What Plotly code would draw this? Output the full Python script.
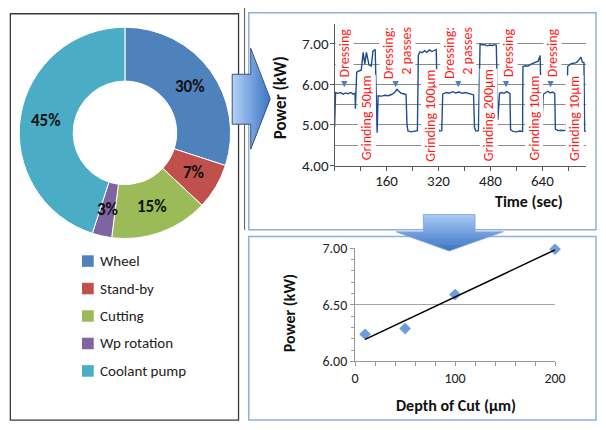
import math
import numpy as np
import plotly.graph_objects as go

W, H = 606, 430
FONT = "Carlito, Lato, sans-serif"

# ---------------- data ----------------
SEGMENTS = ["Wheel", "Stand-by", "Cutting", "Wp rotation", "Coolant pump"]
SHARE_PCT = [30, 7, 15, 3, 45]
SEG_COLORS = ["#4F81BD", "#C0504D", "#9BBB59", "#8064A2", "#4BACC6"]

TIME_S = [0, 3, 10, 18, 26, 34, 42, 50, 57, 63, 64, 68, 75, 82, 84, 88, 93, 98, 106, 113,
          118, 125, 131, 134, 145, 155, 165, 175, 185, 192, 198, 205, 212, 220, 223, 226,
          235, 245, 255, 258, 263, 270, 277, 284, 292, 300, 307, 313, 318, 323, 330, 333,
          343, 353, 363, 373, 383, 393, 403, 413, 421, 428, 431, 435, 443, 448, 455, 463,
          470, 478, 486, 493, 498, 503, 508, 515, 522, 530, 537, 540, 542, 550, 560, 570,
          579, 580, 588, 596, 605, 613, 620, 627, 633, 638, 643, 650, 657, 664, 671, 678,
          680, 688, 698, 708, 714, 718, 726, 734, 742, 748, 753, 759, 763, 768, 770, 774]
POWER_KW = [4.95, 5.80, 5.78, 5.80, 5.76, 5.79, 5.77, 5.80, 5.76, 5.78, 5.40, 6.30, 6.33, 6.35,
            6.50, 6.79, 6.50, 6.79, 6.48, 6.45, 6.82, 6.86, 4.81, 5.72, 5.71, 5.73, 5.72, 5.75,
            5.80, 5.88, 5.83, 5.78, 5.77, 5.75, 5.00, 4.85, 4.83, 4.84, 4.86, 6.72, 6.80, 6.78,
            6.83, 6.79, 6.85, 6.81, 6.84, 6.86, 4.93, 4.85, 4.86, 5.76, 5.80, 5.78, 5.82, 5.79,
            5.81, 5.78, 5.80, 5.77, 5.76, 5.74, 4.93, 4.85, 4.86, 7.00, 6.97, 6.98, 6.95, 6.97,
            6.96, 6.98, 6.97, 5.13, 5.78, 5.80, 5.78, 5.82, 5.79, 5.77, 4.88, 4.84, 4.83, 4.85,
            4.84, 6.44, 6.46, 6.45, 6.50, 6.52, 6.55, 6.57, 6.71, 4.93, 5.76, 5.80, 5.83, 5.79,
            5.81, 5.78, 4.90, 4.86, 4.87, 4.86, 4.88, 6.44, 6.50, 6.52, 6.53, 6.56, 6.60, 6.67,
            6.55, 6.54, 4.85, 4.84]

PHASE_TEXT = ["Dressing", "Grinding 50µm", "Dressing:<br>2 passes", "Grinding 100µm",
              "Dressing:<br>2 passes", "Grinding 200µm", "Dressing", "Grinding 10µm",
              "Dressing", "Grinding 10µm"]
DRESS_T = [30, 188, 381, 528, 665]

DEPTH_UM = [10, 50, 100, 200]
MEAN_POWER_KW = [6.24, 6.29, 6.59, 6.99]

TOP_XTICKS = [160, 320, 480, 640]
TOP_YTICKS = [4, 5, 6, 7]
BOT_XTICKS = [0, 100, 200]
BOT_YTICKS = [6.0, 6.5, 7.0]


def px(x):
    return x / W


def py(y):
    return 1 - y / H


fig = go.Figure()

# ---------------- donut ----------------
PIE_CX, PIE_CY, PIE_R, PIE_HOLE = 124, 130, 110, 0.49
fig.add_trace(go.Pie(
    values=SHARE_PCT, labels=SEGMENTS, sort=False, direction="clockwise",
    hole=PIE_HOLE, textinfo="none", showlegend=False, hoverinfo="label+percent",
    marker=dict(colors=SEG_COLORS, line=dict(color="white", width=1)),
    domain=dict(x=[px(PIE_CX - PIE_R), px(PIE_CX + PIE_R)],
                y=[py(PIE_CY + PIE_R), py(PIE_CY - PIE_R)]),
))

annotations = []
shapes = []


def note(x, y, text, size, color="#111", angle=0, xanchor="center", **kw):
    annotations.append(dict(x=px(x), y=py(y), xref="paper", yref="paper", text=text,
                            textangle=angle, showarrow=False, xanchor=xanchor,
                            yanchor="middle", font=dict(family=FONT, size=size, color=color),
                            **kw))


total = sum(SHARE_PCT)
cum = 0
r_mid = PIE_R * (1 + PIE_HOLE) / 2
for v in SHARE_PCT:
    a = math.radians((cum + v / 2) / total * 360)
    cum += v
    lx = PIE_CX + r_mid * math.sin(a)
    ly = PIE_CY - r_mid * math.cos(a)
    note(lx, ly, f"<b>{round(v / total * 100)}%</b>", 17)

# manual legend
for i, (name, col) in enumerate(zip(SEGMENTS, SEG_COLORS)):
    yc = 263.5 + i * 28.6
    shapes.append(dict(type="rect", xref="paper", yref="paper", x0=px(80), x1=px(92),
                       y0=py(yc + 6), y1=py(yc - 6), fillcolor=col, line=dict(width=0)))
    note(96, yc, name, 15, color="#222", xanchor="left")

# ---------------- time series ----------------
fig.add_trace(go.Scatter(x=TIME_S, y=POWER_KW, mode="lines", xaxis="x", yaxis="y",
                         line=dict(color="#1F4E8C", width=1.4), showlegend=False))

# ---------------- depth of cut ----------------
fig.add_trace(go.Scatter(x=DEPTH_UM, y=MEAN_POWER_KW, mode="markers", xaxis="x2", yaxis="y2",
                         marker=dict(symbol="diamond", size=9, color="#6E9CDB"),
                         cliponaxis=False, showlegend=False))
k, b = np.polyfit(DEPTH_UM, MEAN_POWER_KW, 1)
xs = [min(DEPTH_UM), max(DEPTH_UM)]
fig.add_trace(go.Scatter(x=xs, y=[k * v + b for v in xs], mode="lines", xaxis="x2", yaxis="y2",
                         line=dict(color="black", width=1.5), showlegend=False))

AX = "#595959"
GRID = "#8A8A8A"
layout_axes = dict(
    xaxis=dict(domain=[px(339), px(597)], range=[0, 775], anchor="y", tickvals=TOP_XTICKS,
               ticks="outside", ticklen=4, tickcolor=AX, showline=True, linecolor=AX,
               showgrid=False, zeroline=False, ticklabelstandoff=-3,
               minor=dict(dtick=80, tick0=0, ticks="outside", ticklen=4, tickcolor=AX),
               tickfont=dict(family=FONT, size=15, color="#222")),
    yaxis=dict(domain=[py(164), py(17)], range=[4, 7.48], anchor="x", tickvals=TOP_YTICKS,
               tickformat=".2f", ticks="outside", ticklen=4, tickcolor=AX, showline=True,
               linecolor=AX, showgrid=True, gridcolor=GRID, gridwidth=1.2, zeroline=False,
               ticklabelstandoff=-2,
               minor=dict(dtick=0.5, tick0=4, showgrid=True, gridcolor=GRID, gridwidth=1.2),
               tickfont=dict(family=FONT, size=15, color="#222")),
    xaxis2=dict(domain=[px(360), px(565)], range=[0, 200], anchor="y2", tickvals=BOT_XTICKS,
                ticks="outside", ticklen=4, tickcolor="#999", showline=True, linecolor="#999",
                showgrid=False, zeroline=False,
                minor=dict(dtick=20, tick0=0, ticks="outside", ticklen=4, tickcolor="#999"),
                tickfont=dict(family=FONT, size=14, color="#222")),
    yaxis2=dict(domain=[py(368), py(250)], range=[6, 7], anchor="x2", tickvals=BOT_YTICKS,
                tickformat=".2f", ticks="outside", ticklen=4, tickcolor="#999", showline=True,
                linecolor="#999", showgrid=True, gridcolor="#A6A6A6", zeroline=False,
                minor=dict(dtick=0.1, tick0=6, ticks="outside", ticklen=3, tickcolor="#999"),
                tickfont=dict(family=FONT, size=14, color="#222")),
)

# axis titles
note(283, 93, "<b>Power (kW)</b>", 17, angle=-90)
note(538, 201, "<b>Time (sec)</b>", 16)
note(293, 318, "<b>Power (kW)</b>", 16, angle=-90)
note(463, 414, "<b>Depth of Cut (µm)</b>", 16)

# phase labels (vertical red text)
PHASE_POS = [(349, 47), (372, 114), (403, 47), (437, 112), (465.5, 47), (497, 112),
             (517, 47), (543.5, 115), (562, 47), (585, 115)]
for text, (x, y) in zip(PHASE_TEXT, PHASE_POS):
    note(x, y, text, 14, color="#FF1A1A", angle=-90, align="right", bgcolor="white",
         borderpad=0)

# small dressing arrows
for t in DRESS_T:
    annotations.append(dict(x=t, y=5.93, xref="x", yref="y", ax=t, ay=6.12, axref="x",
                            ayref="y", text="", showarrow=True, arrowhead=2, arrowsize=0.7,
                            arrowwidth=1.8, arrowcolor="#4F81BD"))

# ---------------- panel borders ----------------
shapes.append(dict(type="rect", xref="paper", yref="paper", x0=px(6.5), x1=px(240.5),
                   y0=py(429), y1=py(6), line=dict(color="#3A3A3A", width=1.3)))
shapes.append(dict(type="line", xref="paper", yref="paper", x0=px(246.7), x1=px(246.7),
                   y0=py(231), y1=py(0), line=dict(color="#555", width=1)))
shapes.append(dict(type="rect", xref="paper", yref="paper", x0=px(251), x1=px(607),
                   y0=py(231), y1=py(5), line=dict(color="#8EB0DC", width=1.5)))
shapes.append(dict(type="rect", xref="paper", yref="paper", x0=px(251), x1=px(607),
                   y0=py(429), y1=py(238), line=dict(color="#8EB0DC", width=1.5)))


def lerp_col(c0, c1, f):
    a = [int(c0[i:i + 2], 16) for i in (1, 3, 5)]
    bb = [int(c1[i:i + 2], 16) for i in (1, 3, 5)]
    return "rgb(%d,%d,%d)" % tuple(round(a[j] + (bb[j] - a[j]) * f) for j in range(3))


def poly_path(pts):
    return "M " + " L ".join(f"{px(x):.5f},{py(y):.5f}" for x, y in pts) + " Z"


# right arrow (horizontal gradient)
bx0, bx1, by0, by1 = 234, 253, 69, 121
hx1, hy0, hy1 = 273, 42, 147
hc = (hy0 + hy1) / 2
N = 16


def half_r(x):
    if x <= bx1:
        return (by1 - by0) / 2
    return (hy1 - hy0) / 2 * (hx1 - x) / (hx1 - bx1)


for i in range(N):
    x0 = bx0 + (hx1 - bx0) * i / N
    x1 = min(bx0 + (hx1 - bx0) * (i + 1) / N + 0.6, hx1)
    col = lerp_col("#B3D1F8", "#3A74C4", (i + 0.5) / N)
    cy = (by0 + by1) / 2
    if x0 < bx1 < x1:
        pts = [(x0, cy - half_r(x0)), (bx1, cy - half_r(bx1)), (bx1, hc - (hy1 - hy0) / 2),
               (x1, hc - half_r(x1)), (x1, hc + half_r(x1)), (bx1, hc + (hy1 - hy0) / 2),
               (bx1, cy + half_r(bx1)), (x0, cy + half_r(x0))]
    else:
        pts = [(x0, cy - half_r(x0)), (x1, cy - half_r(x1)), (x1, cy + half_r(x1)),
               (x0, cy + half_r(x0))]
    shapes.append(dict(type="path", xref="paper", yref="paper", path=poly_path(pts),
                       fillcolor=col, line=dict(width=0)))
shapes.append(dict(type="path", xref="paper", yref="paper",
                   path=poly_path([(bx0, by0), (bx1, by0), (bx1, hy0), (hx1, hc), (bx1, hy1),
                                   (bx1, by1), (bx0, by1)]),
                   line=dict(color="#3F5270", width=1)))

# down arrow (vertical gradient)
dx0, dx1, dy0, dy1 = 430, 483, 215, 233
hxa, hxb, tipy = 402, 512, 253
dc = (dx0 + dx1) / 2
N = 14


def half_d(y):
    if y <= dy1:
        return (dx1 - dx0) / 2
    return (hxb - hxa) / 2 * (tipy - y) / (tipy - dy1)


for i in range(N):
    y0 = dy0 + (tipy - dy0) * i / N
    y1 = min(dy0 + (tipy - dy0) * (i + 1) / N + 0.6, tipy)
    col = lerp_col("#A9CBF7", "#3A74C4", (i + 0.5) / N)
    if y0 < dy1 < y1:
        pts = [(dc - half_d(y0), y0), (dc + half_d(y0), y0), (dc + half_d(y0), dy1),
               (hxb, dy1), (dc + half_d(y1), y1), (dc - half_d(y1), y1), (hxa, dy1),
               (dc - half_d(y0), dy1)]
    else:
        pts = [(dc - half_d(y0), y0), (dc + half_d(y0), y0), (dc + half_d(y1), y1),
               (dc - half_d(y1), y1)]
    shapes.append(dict(type="path", xref="paper", yref="paper", path=poly_path(pts),
                       fillcolor=col, line=dict(width=0)))
shapes.append(dict(type="path", xref="paper", yref="paper",
                   path=poly_path([(dx0, dy0), (dx1, dy0), (dx1, dy1), (hxb, dy1), (dc, tipy),
                                   (hxa, dy1), (dx0, dy1)]),
                   line=dict(color="#7FA6D9", width=0.8)))

fig.update_layout(
    width=W, height=H, margin=dict(l=0, r=0, t=0, b=0), autosize=False,
    paper_bgcolor="white", plot_bgcolor="rgba(0,0,0,0)",
    font=dict(family=FONT, color="#222"),
    annotations=annotations, shapes=shapes, showlegend=False,
    **layout_axes,
)

fig.write_html("out.html", config={"displayModeBar": False},
               post_script="document.body.style.margin='0px';")
